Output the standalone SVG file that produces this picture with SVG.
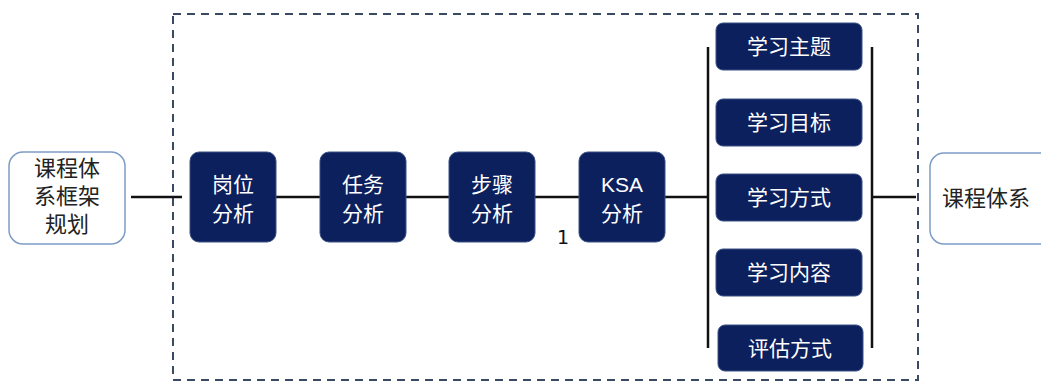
<svg xmlns="http://www.w3.org/2000/svg" width="1041" height="383" viewBox="0 0 1041 383">
<style>
.n{fill:#0d205e;stroke:#3b5184;stroke-width:1}
.o{fill:#fff;stroke:#7f9cc6;stroke-width:1.5}
.t{font-family:"Liberation Sans","Noto Sans CJK SC",sans-serif;font-size:21px;fill:#fff;text-anchor:middle}
.d{font-family:"Liberation Sans","Noto Sans CJK SC",sans-serif;font-size:22px;fill:#222;text-anchor:middle}
.c{stroke:#111;stroke-width:2.5;fill:none}
</style>
<rect x="173" y="14" width="745" height="366" fill="none" stroke="#3a4a63" stroke-width="2" stroke-dasharray="8,6"/>
<g id="connectors">
<line class="c" x1="131" y1="197" x2="182" y2="197"/>
<line class="c" x1="276" y1="197" x2="320" y2="197"/>
<line class="c" x1="406" y1="197" x2="449" y2="197"/>
<line class="c" x1="535" y1="197" x2="579" y2="197"/>
<line class="c" x1="665" y1="197" x2="708" y2="197"/>
<line class="c" x1="708" y1="47" x2="708" y2="348"/>
<line class="c" x1="872" y1="47" x2="872" y2="348"/>
<line class="c" x1="872" y1="197" x2="916" y2="197"/>
</g>
<g id="left"><rect class="o" x="9" y="152" width="116" height="92" rx="14"/><text class="d" x="67" y="176">课程体</text><text class="d" x="67" y="204">系框架</text><text class="d" x="67" y="232">规划</text></g>
<g id="n1"><rect class="n" x="190" y="152" width="86" height="90" rx="9"/><text class="t" x="233" y="192">岗位</text><text class="t" x="233" y="221">分析</text></g>
<g id="n2"><rect class="n" x="320" y="152" width="86" height="90" rx="9"/><text class="t" x="363" y="192">任务</text><text class="t" x="363" y="221">分析</text></g>
<g id="n3"><rect class="n" x="449" y="152" width="86" height="90" rx="9"/><text class="t" x="492" y="192">步骤</text><text class="t" x="492" y="221">分析</text></g>
<g id="n4"><rect class="n" x="579" y="152" width="86" height="90" rx="9"/><text class="t" x="622" y="192">KSA</text><text class="t" x="622" y="221">分析</text></g>
<text x="563" y="244" font-family="DejaVu Sans,sans-serif" font-size="19" fill="#111" text-anchor="middle">1</text>
<g id="r1"><rect class="n" x="716" y="23" width="146" height="47" rx="7"/><text class="t" x="789" y="54">学习主题</text></g>
<g id="r2"><rect class="n" x="716" y="99" width="146" height="47" rx="7"/><text class="t" x="789" y="130">学习目标</text></g>
<g id="r3"><rect class="n" x="716" y="174" width="146" height="47" rx="7"/><text class="t" x="789" y="205">学习方式</text></g>
<g id="r4"><rect class="n" x="716" y="249" width="146" height="47" rx="7"/><text class="t" x="789" y="280">学习内容</text></g>
<g id="r5"><rect class="n" x="718" y="325" width="145" height="46" rx="7"/><text class="t" x="790" y="356">评估方式</text></g>
<g id="right"><rect class="o" x="930" y="153" width="130" height="91" rx="14"/><text class="d" x="986" y="206">课程体系</text></g>
</svg>
